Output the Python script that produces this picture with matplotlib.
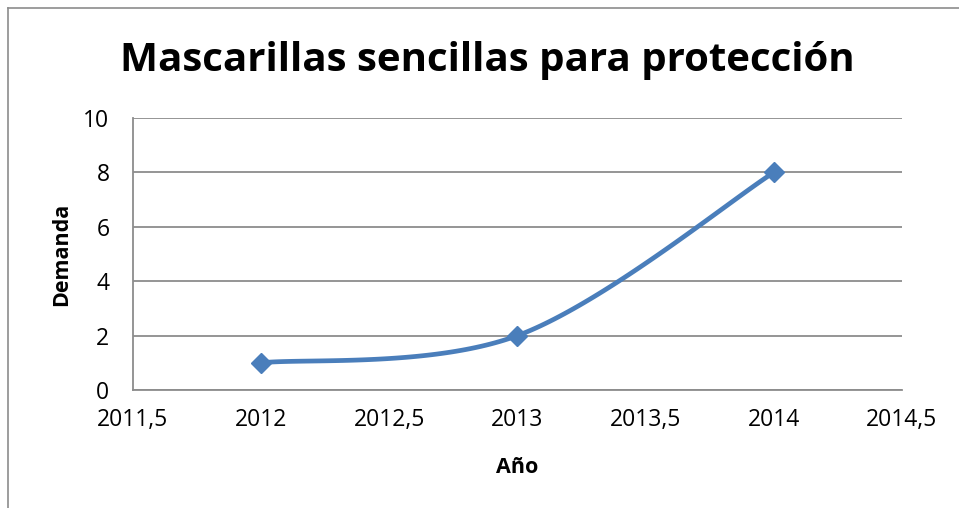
import numpy as np
import matplotlib.pyplot as plt
from matplotlib.lines import Line2D

years = [2012, 2013, 2014]
demanda = [1, 2, 8]
xticks = [2011.5, 2012, 2012.5, 2013, 2013.5, 2014, 2014.5]
xtick_labels = ['2011,5', '2012', '2012,5', '2013', '2013,5', '2014', '2014,5']
yticks = [0, 2, 4, 6, 8, 10]

LINE_COLOR = '#4a7ebb'
GRID_COLOR = '#8c8c8c'

plt.rcParams['font.family'] = ['Open Sans', 'DejaVu Sans']


def smooth_curve(x, y, n=60):
    # bezier smoothing with control points taken from neighbours (1/6 tension)
    pts = np.column_stack([x, y]).astype(float)
    padded = np.vstack([pts[0], pts, pts[-1]])
    out = []
    for i in range(len(pts) - 1):
        p0, p1, p2, p3 = padded[i], padded[i + 1], padded[i + 2], padded[i + 3]
        c1 = p1 + (p2 - p0) / 6.0
        c2 = p2 - (p3 - p1) / 6.0
        t = np.linspace(0, 1, n)[:, None]
        seg = ((1 - t) ** 3) * p1 + 3 * ((1 - t) ** 2) * t * c1 \
            + 3 * (1 - t) * t ** 2 * c2 + t ** 3 * p2
        out.append(seg)
    curve = np.vstack(out)
    return curve[:, 0], curve[:, 1]


fig = plt.figure(figsize=(9.59, 5.08), dpi=100)
ax = fig.add_axes([133 / 959, 1 - 390 / 508, (902 - 133) / 959, (390 - 118) / 508])

cx, cy = smooth_curve(years, demanda)
ax.plot(cx, cy, color=LINE_COLOR, linewidth=3.4, solid_capstyle='round', zorder=3)
ax.plot(years, demanda, linestyle='none', marker='D', markersize=10,
        color=LINE_COLOR, zorder=4)

ax.set_xlim(2011.5, 2014.5)
ax.set_ylim(0, 10)
ax.set_xticks(xticks)
ax.set_xticklabels(xtick_labels)
ax.set_yticks(yticks)
ax.tick_params(axis='both', length=0, labelsize=16.5, colors='black')
ax.tick_params(axis='x', pad=13)
ax.tick_params(axis='y', pad=17)
ax.grid(axis='y', color=GRID_COLOR, linewidth=1.3)
ax.set_axisbelow(True)
for side in ['top', 'right']:
    ax.spines[side].set_visible(False)
for side in ['left', 'bottom']:
    ax.spines[side].set_color(GRID_COLOR)
    ax.spines[side].set_linewidth(1.3)

ax.set_xlabel('Año', fontsize=15.5, fontweight='bold', labelpad=18)
ax.set_ylabel('Demanda', fontsize=15.5, fontweight='bold', labelpad=8)

fig.text(487 / 959, 1 - 60 / 508, 'Mascarillas sencillas para protección',
         fontsize=29, fontweight='bold', ha='center', va='center')

# outer chart frame (only top and left edges show)
fig.add_artist(Line2D([7.5 / 959, 7.5 / 959], [0, 1 - 7.5 / 508],
                      transform=fig.transFigure, color=GRID_COLOR, linewidth=1.2))
fig.add_artist(Line2D([7.5 / 959, 1], [1 - 7.5 / 508, 1 - 7.5 / 508],
                      transform=fig.transFigure, color=GRID_COLOR, linewidth=1.2))

fig.savefig('out.png', dpi=100)
